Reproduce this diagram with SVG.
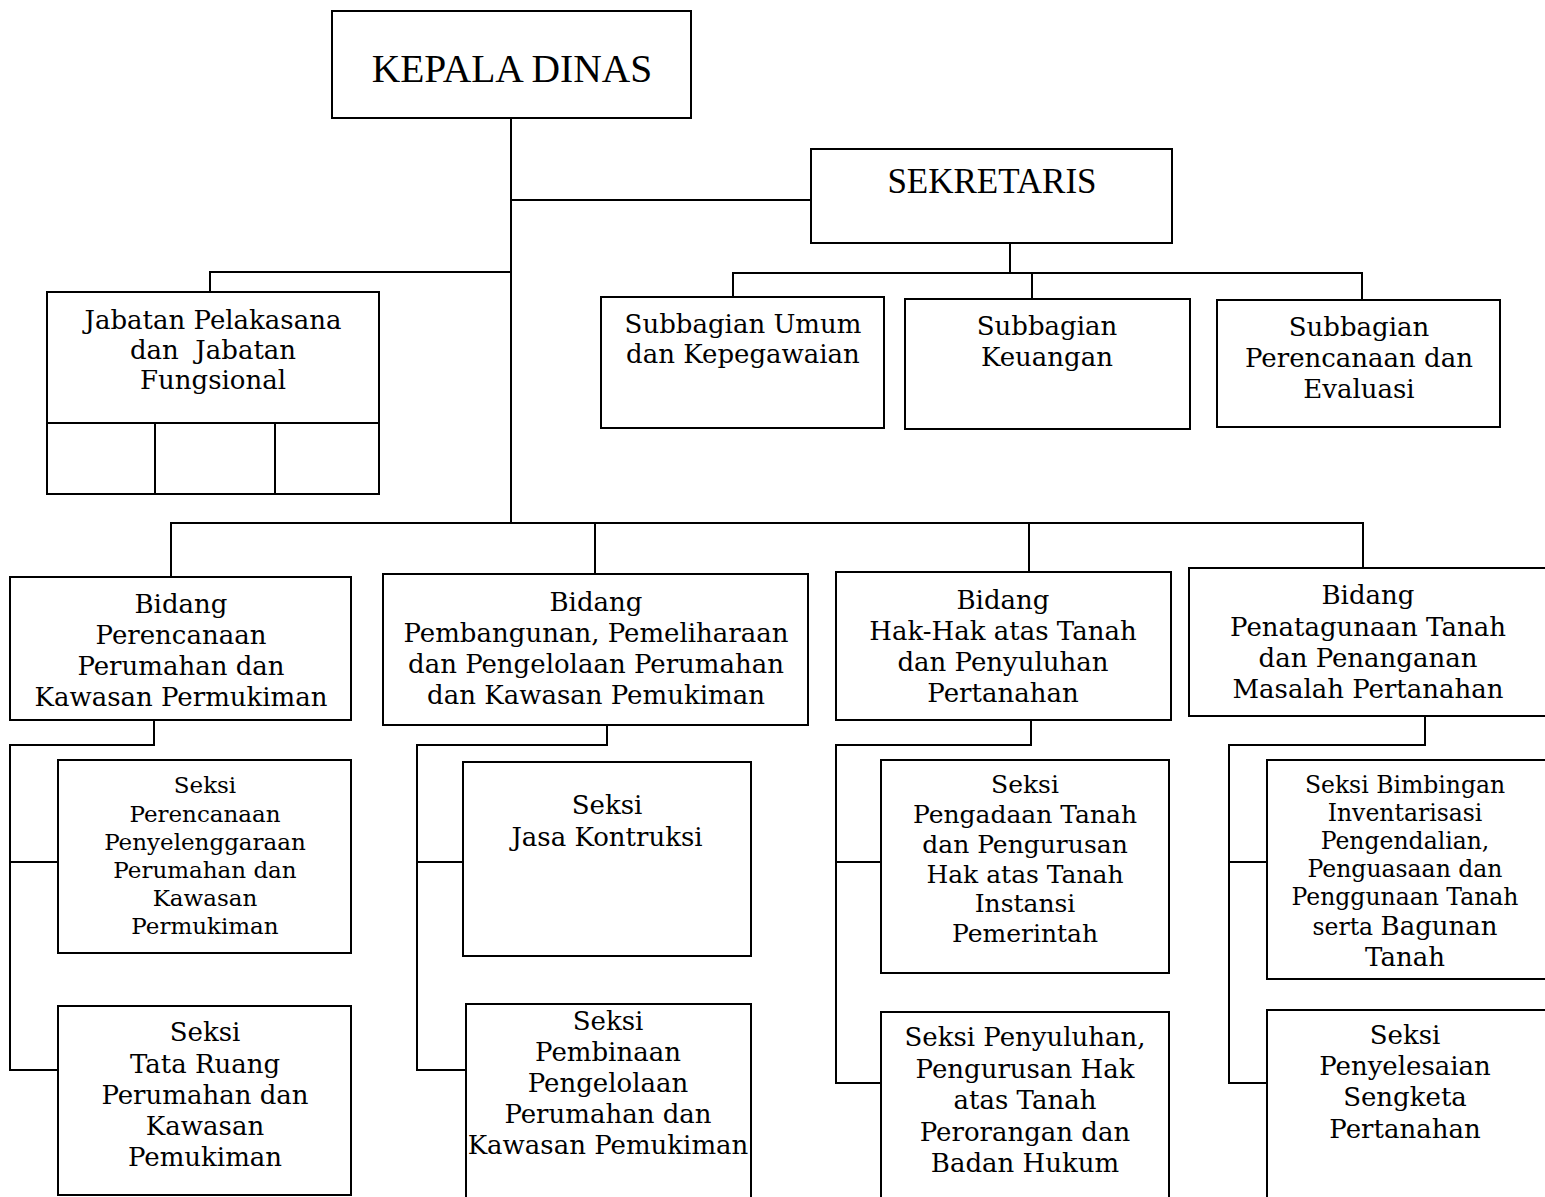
<svg xmlns="http://www.w3.org/2000/svg" width="1545" height="1197" viewBox="0 0 1545 1197">
<style>
.box{fill:#fff;stroke:#000;stroke-width:2}
.ln{fill:none;stroke:#000;stroke-width:2}
text{font-family:"DejaVu Serif","Liberation Serif",serif;fill:#000;text-anchor:middle}
.t1{font-family:"Liberation Serif","Times New Roman",serif;font-size:39.5px}
.t2{font-family:"Liberation Serif","Times New Roman",serif;font-size:35px}
.s26{font-size:26px}
.s25{font-size:25px}
.s23{font-size:23px}
.s235{font-size:23.5px}
</style>
<rect width="1545" height="1197" fill="#fff"/>
<g id="connectors">
<path class="ln" d="M511 118V523"/>
<path class="ln" d="M511 200H811"/>
<path class="ln" d="M511 272H210V292"/>
<path class="ln" d="M1010 244V273M733 297V273H1362V300M1032 273V302"/>
<path class="ln" d="M171 577V523H1363V568M595 523V574M1029 523V572"/>
<path class="ln" d="M154 720V745H10V1070H58M10 862H58"/>
<path class="ln" d="M607 725V745H417V1070H467M417 862H465"/>
<path class="ln" d="M1031 720V745H836V1083H881M836 862H881"/>
<path class="ln" d="M1425 716V745H1229V1083H1267M1229 862H1267"/>
</g>
<g id="kepala">
<rect class="box" x="332" y="11" width="359" height="107"/>
<text class="t1" x="512" y="82">KEPALA DINAS</text>
</g>
<g id="sekretaris">
<rect class="box" x="811" y="149" width="361" height="94"/>
<text class="t2" x="992" y="193">SEKRETARIS</text>
</g>
<g id="jabatan">
<rect class="box" x="47" y="292" width="332" height="202"/>
<path class="ln" d="M47 423H379M155 423V494M275 423V494"/>
<text class="s26" x="213" y="329">Jabatan Pelakasana</text>
<text class="s26" x="213" y="359" xml:space="preserve">dan  Jabatan</text>
<text class="s26" x="213" y="389">Fungsional</text>
</g>
<g id="sub-umum">
<rect class="box" x="601" y="297" width="283" height="131"/>
<text class="s26" x="743" y="333">Subbagian Umum</text>
<text class="s26" x="743" y="363">dan Kepegawaian</text>
</g>
<g id="sub-keuangan">
<rect class="box" x="905" y="299" width="285" height="130"/>
<text class="s26" x="1047" y="335">Subbagian</text>
<text class="s26" x="1047" y="366">Keuangan</text>
</g>
<g id="sub-perencanaan">
<rect class="box" x="1217" y="300" width="283" height="127"/>
<text class="s26" x="1359" y="336">Subbagian</text>
<text class="s26" x="1359" y="367">Perencanaan dan</text>
<text class="s26" x="1359" y="398">Evaluasi</text>
</g>
<g id="bidang1">
<rect class="box" x="10" y="577" width="341" height="143"/>
<text class="s26" x="181" y="613">Bidang</text>
<text class="s26" x="181" y="644">Perencanaan</text>
<text class="s26" x="181" y="675">Perumahan dan</text>
<text class="s26" x="181" y="706">Kawasan Permukiman</text>
</g>
<g id="bidang2">
<rect class="box" x="383" y="574" width="425" height="151"/>
<text class="s26" x="596" y="611">Bidang</text>
<text class="s26" x="596" y="642">Pembangunan, Pemeliharaan</text>
<text class="s26" x="596" y="673">dan Pengelolaan Perumahan</text>
<text class="s26" x="596" y="704">dan Kawasan Pemukiman</text>
</g>
<g id="bidang3">
<rect class="box" x="836" y="572" width="335" height="148"/>
<text class="s26" x="1003" y="609">Bidang</text>
<text class="s26" x="1003" y="640">Hak-Hak atas Tanah</text>
<text class="s26" x="1003" y="671">dan Penyuluhan</text>
<text class="s26" x="1003" y="702">Pertanahan</text>
</g>
<g id="bidang4">
<rect class="box" x="1189" y="568" width="360" height="148"/>
<text class="s26" x="1368" y="604">Bidang</text>
<text class="s26" x="1368" y="636">Penatagunaan Tanah</text>
<text class="s26" x="1368" y="667">dan Penanganan</text>
<text class="s26" x="1368" y="698">Masalah Pertanahan</text>
</g>
<g id="seksi1a">
<rect class="box" x="58" y="760" width="293" height="193"/>
<text class="s23" x="205" y="793">Seksi</text>
<text class="s23" x="205" y="822">Perencanaan</text>
<text class="s23" x="205" y="850">Penyelenggaraan</text>
<text class="s23" x="205" y="878">Perumahan dan</text>
<text class="s23" x="205" y="906">Kawasan</text>
<text class="s23" x="205" y="934">Permukiman</text>
</g>
<g id="seksi1b">
<rect class="box" x="58" y="1006" width="293" height="189"/>
<text class="s26" x="205" y="1041">Seksi</text>
<text class="s26" x="205" y="1073">Tata Ruang</text>
<text class="s26" x="205" y="1104">Perumahan dan</text>
<text class="s26" x="205" y="1135">Kawasan</text>
<text class="s26" x="205" y="1166">Pemukiman</text>
</g>
<g id="seksi2a">
<rect class="box" x="463" y="762" width="288" height="194"/>
<text class="s26" x="607" y="814">Seksi</text>
<text class="s26" x="607" y="846">Jasa Kontruksi</text>
</g>
<g id="seksi2b">
<rect class="box" x="466" y="1004" width="285" height="200"/>
<text class="s26" x="608" y="1030">Seksi</text>
<text class="s26" x="608" y="1061">Pembinaan</text>
<text class="s26" x="608" y="1092">Pengelolaan</text>
<text class="s26" x="608" y="1123">Perumahan dan</text>
<text class="s26" x="608" y="1154">Kawasan Pemukiman</text>
</g>
<g id="seksi3a">
<rect class="box" x="881" y="760" width="288" height="213"/>
<text class="s25" x="1025" y="793">Seksi</text>
<text class="s25" x="1025" y="823">Pengadaan Tanah</text>
<text class="s25" x="1025" y="853">dan Pengurusan</text>
<text class="s25" x="1025" y="883">Hak atas Tanah</text>
<text class="s25" x="1025" y="912">Instansi</text>
<text class="s25" x="1025" y="942">Pemerintah</text>
</g>
<g id="seksi3b">
<rect class="box" x="881" y="1012" width="288" height="200"/>
<text class="s26" x="1025" y="1046">Seksi Penyuluhan,</text>
<text class="s26" x="1025" y="1078">Pengurusan Hak</text>
<text class="s26" x="1025" y="1109">atas Tanah</text>
<text class="s26" x="1025" y="1141">Perorangan dan</text>
<text class="s26" x="1025" y="1172">Badan Hukum</text>
</g>
<g id="seksi4a">
<rect class="box" x="1267" y="760" width="282" height="219"/>
<text class="s235" x="1405" y="793">Seksi Bimbingan</text>
<text class="s235" x="1405" y="821">Inventarisasi</text>
<text class="s235" x="1405" y="849">Pengendalian,</text>
<text class="s235" x="1405" y="877">Penguasaan dan</text>
<text class="s235" x="1405" y="905">Penggunaan Tanah</text>
<text class="s235" x="1405" y="935">serta <tspan style="font-size:26px">Bagunan</tspan></text>
<text class="s26" x="1405" y="966">Tanah</text>
</g>
<g id="seksi4b">
<rect class="box" x="1267" y="1010" width="282" height="200"/>
<text class="s26" x="1405" y="1044">Seksi</text>
<text class="s26" x="1405" y="1075">Penyelesaian</text>
<text class="s26" x="1405" y="1106">Sengketa</text>
<text class="s26" x="1405" y="1138">Pertanahan</text>
</g>
</svg>
